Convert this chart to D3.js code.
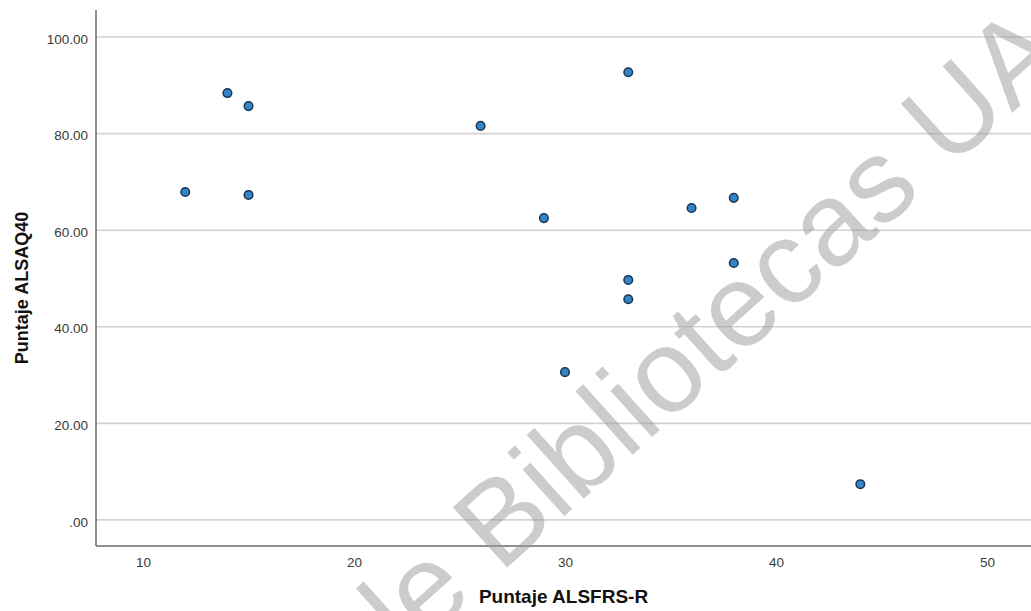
<!DOCTYPE html>
<html>
<head>
<meta charset="utf-8">
<script src="https://cdn.jsdelivr.net/npm/d3@7"></script>
<style>
  body { margin: 0; background: #fff; }
  svg { display: block; }
</style>
</head>
<body>
<svg width="1031" height="611"></svg>
<script>
// Data: ALSFRS-R score vs ALSAQ40 score
var alsfrs = [12, 14, 15, 15, 26, 29, 30, 33, 33, 33, 36, 38, 38, 44],
	alsaq = [67.9, 88.4, 85.7, 67.3, 81.6, 62.5, 30.6, 92.7, 49.7, 45.7, 64.6, 66.7, 53.2, 7.4];

var xTicks = [10, 20, 30, 40, 50],
	yTicks = [0, 20, 40, 60, 80, 100];

var xTitle = "Puntaje ALSFRS-R",
	yTitle = "Puntaje ALSAQ40",
	watermarkA = "de ",
	watermarkB = "Bibliotecas UA";

var svg = d3.select("svg"),
	w = +svg.attr("width"),
	h = +svg.attr("height");

var margin = {left: 96, right: 0, top: 10, bottom: 65};

// Scales
var x = d3.scaleLinear().domain([7.77, 52.09]).range([margin.left, w - margin.right]);
var y = d3.scaleLinear().domain([-5.4, 105.6]).range([h - margin.bottom, margin.top]);

var tickFont = "'Liberation Sans', Arial, sans-serif";

// Gridlines
svg.append("g")
	.selectAll("line")
	.data(yTicks).enter()
	.append("line")
	.attr("x1", margin.left)
	.attr("x2", w)
	.attr("y1", function(d) { return y(d); })
	.attr("y2", function(d) { return y(d); })
	.attr("stroke", "#d2d2d2")
	.attr("stroke-width", 1.6);

// Y axis
var yAxis = svg.append("g")
	.attr("transform", "translate(" + margin.left + ",0)")
	.call(d3.axisLeft(y).tickValues(yTicks).tickSize(0).tickPadding(8)
		.tickFormat(function(d) { return d === 0 ? ".00" : d3.format(".2f")(d); }));
yAxis.select(".domain").remove();
yAxis.selectAll("text")
	.attr("font-family", tickFont)
	.attr("font-size", 13.5)
	.attr("fill", "#3a3a3a")
	.attr("dy", "0.45em");

// X axis
var xAxis = svg.append("g")
	.attr("transform", "translate(0," + (h - margin.bottom) + ")")
	.call(d3.axisBottom(x).tickValues(xTicks).tickSize(0).tickPadding(11));
xAxis.select(".domain").remove();
xAxis.selectAll("text")
	.attr("font-family", tickFont)
	.attr("font-size", 13.5)
	.attr("fill", "#3a3a3a");

// Axis lines
svg.append("line")
	.attr("x1", margin.left).attr("x2", margin.left)
	.attr("y1", margin.top).attr("y2", h - margin.bottom)
	.attr("stroke", "#6a6a6a").attr("stroke-width", 1.5);
svg.append("line")
	.attr("x1", margin.left).attr("x2", w)
	.attr("y1", h - margin.bottom).attr("y2", h - margin.bottom)
	.attr("stroke", "#6a6a6a").attr("stroke-width", 1.5);

// Points
svg.append("g")
	.selectAll("circle")
	.data(d3.range(alsfrs.length)).enter()
	.append("circle")
	.attr("cx", function(i) { return x(alsfrs[i]); })
	.attr("cy", function(i) { return y(alsaq[i]); })
	.attr("r", 4.3)
	.attr("fill", "#3385c6")
	.attr("stroke", "#1c3552")
	.attr("stroke-width", 1.5);

// Axis titles
svg.append("text")
	.attr("x", (margin.left + w) / 2)
	.attr("y", 603)
	.attr("text-anchor", "middle")
	.attr("font-family", "'Liberation Sans', Arial, sans-serif")
	.attr("font-weight", "bold")
	.attr("font-size", 19)
	.attr("fill", "#111")
	.text(xTitle);

svg.append("text")
	.attr("transform", "translate(28,288) rotate(-90)")
	.attr("text-anchor", "middle")
	.attr("font-family", "'Liberation Sans', Arial, sans-serif")
	.attr("font-weight", "bold")
	.attr("font-size", 18)
	.attr("fill", "#111")
	.text(yTitle);

// Watermark (sits over the chart, cut by the right and bottom edges)
var wm = svg.append("g")
	.attr("transform", "translate(500,574) rotate(-42)")
	.attr("font-family", "'Liberation Sans', Arial, sans-serif")
	.attr("font-size", 118)
	.attr("fill", "#999")
	.attr("fill-opacity", 0.5);
wm.append("text").attr("text-anchor", "end").attr("xml:space", "preserve").text(watermarkA);
wm.append("text").attr("text-anchor", "start").text(watermarkB);
</script>
</body>
</html>
